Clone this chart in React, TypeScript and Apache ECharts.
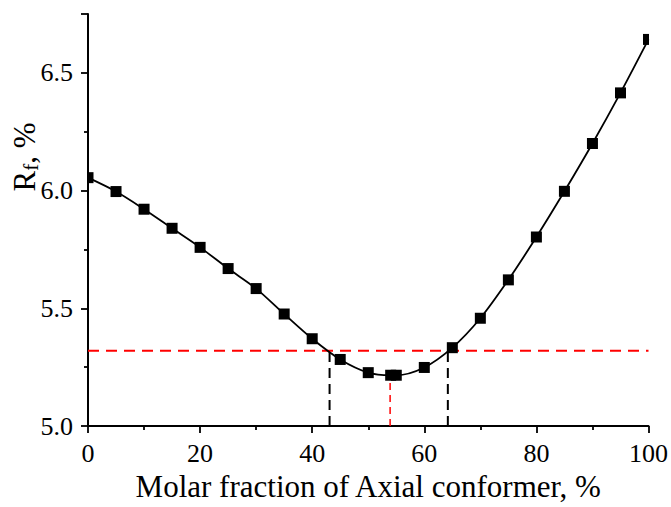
import React, { useEffect, useRef } from "react";
import * as echarts from "echarts";

// Molar fraction of the axial conformer, %
const fractions = [0, 5, 10, 15, 20, 25, 30, 35, 40, 45, 50, 54, 55, 60, 65, 70, 75, 80, 85, 90, 95, 100];
// Rf, %
const rfValues = [6.055, 5.996, 5.921, 5.84, 5.759, 5.669, 5.584, 5.476, 5.371, 5.283, 5.227, 5.216, 5.216, 5.249, 5.333, 5.458, 5.621, 5.803, 5.997, 6.2, 6.415, 6.642];

// Reference level and the fractions where the curve crosses it
const refLevel = 5.32;
const crossLeft = 43.1;
const crossRight = 64.2;
const minFraction = 53.9;
const minRf = 5.214;

const xTicks = { min: 0, max: 100, interval: 20 };
const yTicks = { min: 5.0, max: 6.75, interval: 0.5 };

const FONT = "'Liberation Serif', 'Times New Roman', serif";
const MARK = 11;

export default function App() {
  const ref = useRef<HTMLDivElement>(null);

  useEffect(() => {
    if (!ref.current) return;
    const chart = echarts.init(ref.current, undefined, { renderer: "svg" });

    const axisCommon = {
      axisLine: { show: true, lineStyle: { color: "#000", width: 2 } },
      axisTick: { show: true, length: 7, lineStyle: { color: "#000", width: 1.8 } },
      minorTick: { show: true, splitNumber: 2, length: 4, lineStyle: { color: "#000", width: 1.8 } },
      splitLine: { show: false },
      minorSplitLine: { show: false },
    };

    const points = fractions.map((f, i) => [f, rfValues[i]]);

    chart.setOption({
      animation: false,
      backgroundColor: "#fff",
      grid: { left: 88, right: 22, top: 14, bottom: 77, containLabel: false },
      xAxis: {
        type: "value",
        ...xTicks,
        ...axisCommon,
        name: "Molar fraction of Axial conformer, %",
        nameLocation: "middle",
        nameGap: 44,
        nameTextStyle: { fontFamily: FONT, fontSize: 31, color: "#000" },
        axisLabel: { fontFamily: FONT, fontSize: 26, color: "#000", margin: 14 },
      },
      yAxis: {
        type: "value",
        ...yTicks,
        ...axisCommon,
        axisLabel: {
          fontFamily: FONT,
          fontSize: 26,
          color: "#000",
          margin: 15,
          showMaxLabel: false,
          formatter: (v: number) => v.toFixed(1),
        },
      },
      graphic: [
        {
          type: "text",
          x: 24,
          y: 157,
          rotation: Math.PI / 2,
          style: {
            text: "{r|R}{s|f}{r|, %}",
            align: "center",
            verticalAlign: "middle",
            fill: "#000",
            rich: {
              r: { fontFamily: FONT, fontSize: 31, fill: "#000" },
              s: { fontFamily: FONT, fontSize: 21, fill: "#000", padding: [14, 0, 0, 0] },
            },
          },
        },
      ],
      series: [
        {
          type: "line",
          data: [[xTicks.min, refLevel], [xTicks.max, refLevel]],
          symbol: "none",
          lineStyle: { color: "#ff0000", width: 2, type: [11, 7] },
          z: 1,
        },
        {
          type: "line",
          data: [[crossLeft, yTicks.min], [crossLeft, refLevel]],
          symbol: "none",
          lineStyle: { color: "#000", width: 2, type: [10, 6] },
          z: 1,
        },
        {
          type: "line",
          data: [[crossRight, yTicks.min], [crossRight, refLevel]],
          symbol: "none",
          lineStyle: { color: "#000", width: 2, type: [10, 6] },
          z: 1,
        },
        {
          type: "line",
          data: [[minFraction, yTicks.min], [minFraction, minRf]],
          symbol: "none",
          lineStyle: { color: "#ff0000", width: 1.5, type: [7, 5] },
          z: 1,
        },
        {
          // fitted curve
          type: "line",
          data: points,
          smooth: 0.3,
          symbol: "none",
          lineStyle: { color: "#000", width: 1.8 },
          z: 2,
        },
        {
          // square markers, clipped to the plot area
          type: "custom",
          data: points,
          clip: true,
          encode: { x: 0, y: 1 },
          z: 3,
          renderItem: (_params: any, api: any) => {
            const p = api.coord([api.value(0), api.value(1)]);
            return {
              type: "rect",
              shape: { x: p[0] - MARK / 2, y: p[1] - MARK / 2, width: MARK, height: MARK },
              style: { fill: "#000" },
            };
          },
        },
      ],
    });

    return () => chart.dispose();
  }, []);

  return (
    <div
      ref={ref}
      style={{ position: "fixed", left: 0, top: 0, width: 671, height: 507 }}
    />
  );
}
